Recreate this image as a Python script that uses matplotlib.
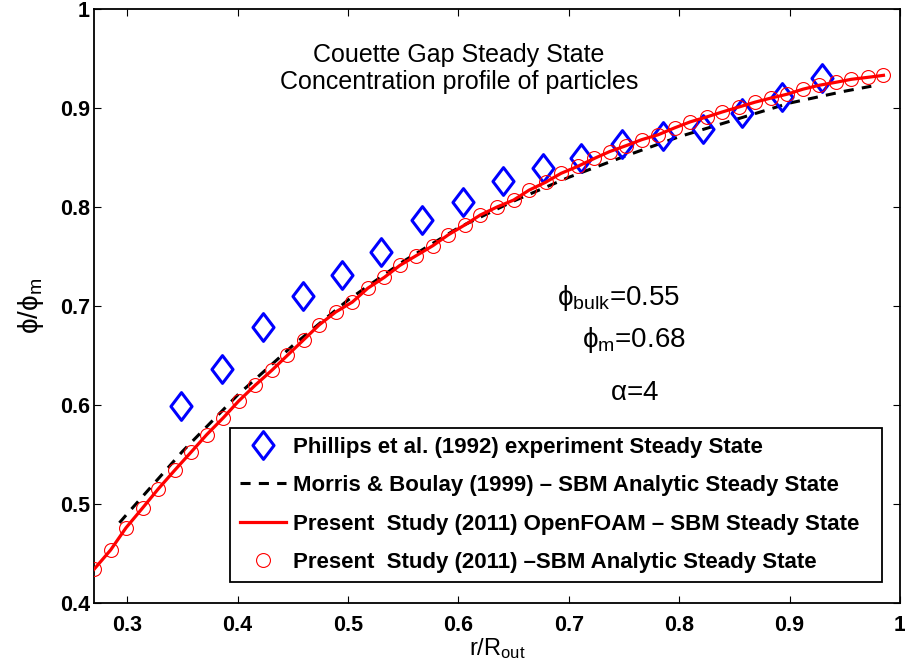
import matplotlib
matplotlib.use("Agg")
import matplotlib.pyplot as plt
from matplotlib.path import Path
from matplotlib.ticker import FuncFormatter

plt.rcParams['font.family'] = ['Liberation Sans', 'DejaVu Sans']
plt.rcParams['mathtext.fontset'] = 'custom'
plt.rcParams['mathtext.rm'] = 'Liberation Sans'
plt.rcParams['mathtext.it'] = 'Liberation Sans:italic'
plt.rcParams['mathtext.bf'] = 'Liberation Sans:bold'
plt.rcParams['mathtext.sf'] = 'Liberation Sans'
plt.rcParams['mathtext.fallback'] = 'stix'

# ---------------- data ----------------
phillips_r = [0.349, 0.386, 0.423, 0.459, 0.495, 0.530, 0.567, 0.604, 0.640,
              0.677, 0.711, 0.748, 0.785, 0.822, 0.857, 0.893, 0.929]
phillips_phi = [0.599, 0.636, 0.679, 0.710, 0.731, 0.755, 0.787, 0.805, 0.826,
                0.839, 0.850, 0.864, 0.872, 0.879, 0.895, 0.911, 0.930]

morris_r = [0.293, 0.30, 0.35, 0.40, 0.45, 0.50, 0.55, 0.60, 0.65, 0.70,
            0.75, 0.80, 0.85, 0.90, 0.95, 0.974]
morris_phi = [0.481, 0.490, 0.553, 0.610, 0.660, 0.706, 0.745, 0.779, 0.806,
              0.830, 0.851, 0.871, 0.888, 0.905, 0.917, 0.922]

present_r = [0.270, 0.285, 0.299, 0.314, 0.328, 0.343, 0.358, 0.372, 0.387, 0.401,
             0.416, 0.431, 0.445, 0.460, 0.474, 0.489, 0.504, 0.518, 0.533, 0.547,
             0.562, 0.577, 0.591, 0.606, 0.620, 0.635, 0.650, 0.664, 0.679, 0.693,
             0.708, 0.723, 0.737, 0.752, 0.766, 0.781, 0.796, 0.810, 0.825, 0.839,
             0.854, 0.869, 0.883, 0.898, 0.912, 0.927, 0.942, 0.956, 0.971, 0.985]
present_analytic_phi = [0.434, 0.4535, 0.476, 0.496, 0.515, 0.534, 0.5525, 0.570, 0.587, 0.604,
                        0.620, 0.635, 0.650, 0.666, 0.681, 0.694, 0.704, 0.718, 0.729, 0.741,
                        0.751, 0.761, 0.772, 0.782, 0.792, 0.800, 0.807, 0.817, 0.825, 0.834,
                        0.841, 0.849, 0.856, 0.862, 0.868, 0.873, 0.880, 0.886, 0.891, 0.896,
                        0.901, 0.906, 0.910, 0.914, 0.919, 0.923, 0.926, 0.929, 0.931, 0.933]
openfoam_phi = list(present_analytic_phi)

x_ticks = [0.3, 0.4, 0.5, 0.6, 0.7, 0.8, 0.9, 1.0]
y_ticks = [0.4, 0.5, 0.6, 0.7, 0.8, 0.9, 1.0]

labels = ["Phillips et al. (1992) experiment Steady State",
          "Morris & Boulay (1999) \u2013 SBM Analytic Steady State",
          "Present  Study (2011) OpenFOAM \u2013 SBM Steady State",
          "Present  Study (2011) \u2013SBM Analytic Steady State"]

# ---------------- figure ----------------
fig = plt.figure(figsize=(9.05, 6.72), dpi=100)
ax = fig.add_axes([0.1039, 0.1027, 0.8906, 0.8839])

diamond = Path([(0, 1), (0.76, 0), (0, -1), (-0.76, 0), (0, 1)],
               [Path.MOVETO, Path.LINETO, Path.LINETO, Path.LINETO, Path.CLOSEPOLY])

h1, = ax.plot(phillips_r, phillips_phi, linestyle='none', marker=diamond,
              markersize=20, markerfacecolor='none', markeredgecolor='#0000ff',
              markeredgewidth=2.2, label=labels[0], zorder=3)
h2, = ax.plot(morris_r, morris_phi, color='black', linewidth=2.2,
              dashes=(3.3, 2.7), label=labels[1], zorder=2)
h3, = ax.plot(present_r, openfoam_phi, color='#ff0000', linewidth=2.3,
              label=labels[2], zorder=4)
h4, = ax.plot(present_r, present_analytic_phi, linestyle='none', marker='o',
              markersize=10, markerfacecolor='none', markeredgecolor='#ff0000',
              markeredgewidth=0.8, label=labels[3], zorder=5)

ax.set_xlim(0.27, 1.0)
ax.set_ylim(0.4, 1.0)
ax.set_xticks(x_ticks)
ax.set_yticks(y_ticks)
fmt = FuncFormatter(lambda v, p: ('%g' % round(v, 2)))
ax.xaxis.set_major_formatter(fmt)
ax.yaxis.set_major_formatter(fmt)
ax.tick_params(direction='in', length=5, width=0.8, top=True, right=True,
               labelsize=15.5, colors='black')
ax.tick_params(axis='x', pad=9)
ax.tick_params(axis='y', pad=3)
for lab in ax.get_xticklabels() + ax.get_yticklabels():
    lab.set_fontweight('bold')
for sp in ax.spines.values():
    sp.set_linewidth(1.3)

ax.set_xlabel(r'r/R$_{\mathrm{out}}$', fontsize=17, labelpad=0)
ax.set_ylabel(r'$\mathrm{\phi/\phi_m}$', fontsize=20, labelpad=10)

ax.text(0.6006, 0.940, "Couette Gap Steady State\nConcentration profile of particles",
        ha='center', va='center', fontsize=18, linespacing=1.15)

ax.text(0.689, 0.701, r'$\mathrm{\phi_{bulk}}$=0.55', ha='left', va='baseline', fontsize=20)
ax.text(0.7118, 0.6586, r'$\mathrm{\phi_m}$=0.68', ha='left', va='baseline', fontsize=20)
ax.text(0.7373, 0.605, r'$\mathrm{\alpha}$=4', ha='left', va='baseline', fontsize=20)

leg = ax.legend(handles=[h1, h2, h3, h4], loc='lower left', mode='expand',
                bbox_to_anchor=(0.169, 0.035, 0.809, 0.26),
                prop={'weight': 'bold', 'size': 16},
                frameon=True, fancybox=False, shadow=False, framealpha=1,
                edgecolor='black', handlelength=2.1, labelspacing=0.78,
                borderpad=0.42, handletextpad=0.3, borderaxespad=0)
leg.get_frame().set_linewidth(1.3)

fig.savefig('out.png', dpi=100)
